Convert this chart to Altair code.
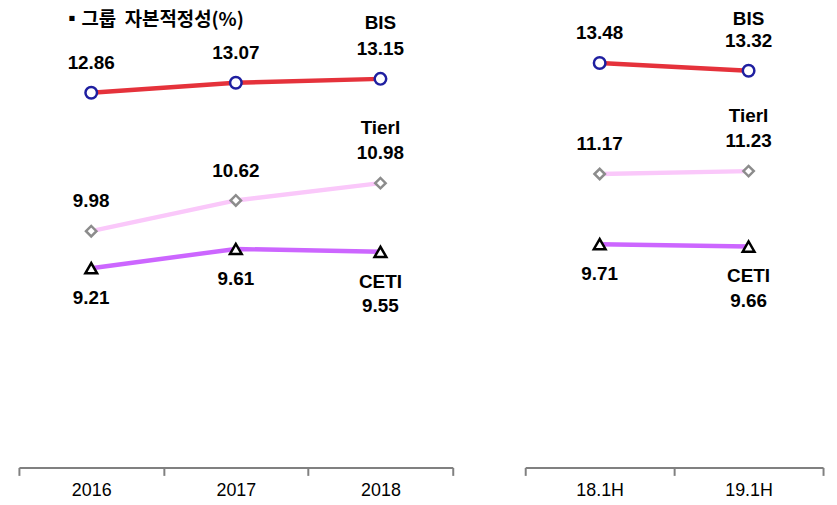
import altair as alt
import pandas as pd

# ---- data ----
years = ["2016", "2017", "2018"]
halves = ["18.1H", "19.1H"]
bis_years = [12.86, 13.07, 13.15]
tier_years = [9.98, 10.62, 10.98]
ceti_years = [9.21, 9.61, 9.55]
bis_halves = [13.48, 13.32]
tier_halves = [11.17, 11.23]
ceti_halves = [9.71, 9.66]
series_names = ["BIS", "TierI", "CETI"]
series_colors = ["#E5323B", "#FAC8FA", "#CC66FF"]
title_text = "▪그룹\u00a0\u00a0자본적정성(%)"

def build(periods, bis, tier, ceti):
    rows = []
    for name, vals in zip(series_names, [bis, tier, ceti]):
        for i, (p, v) in enumerate(zip(periods, vals)):
            rows.append({"period": p, "series": name, "value": v,
                         "label": f"{v:.2f}", "last": i == len(periods) - 1})
    return pd.DataFrame(rows)

df_left = build(years, bis_years, tier_years, ceti_years)
df_right = build(halves, bis_halves, tier_halves, ceti_halves)

YDOM = [5.063, 14.133]
H = 439
LABEL_FONT = "Liberation Sans"


def panel(df, periods, width, name_dy, with_title=False):
    base = alt.Chart(df).encode(
        x=alt.X("period:N", sort=periods, title=None,
                scale=alt.Scale(paddingInner=0, paddingOuter=0),
                axis=alt.Axis(labelAngle=0, tickBand="extent", tickSize=8,
                              tickColor="#808080", tickWidth=2,
                              domainColor="#808080", domainWidth=2,
                              labelFont=LABEL_FONT, labelFontSize=18,
                              labelColor="#000000", labelPadding=6)),
        y=alt.Y("value:Q", scale=alt.Scale(domain=YDOM, zero=False, nice=False),
                axis=None),
    )
    lines = base.mark_line(strokeWidth=4.5).encode(
        color=alt.Color("series:N", scale=alt.Scale(domain=series_names, range=series_colors),
                        legend=None),
        detail="series:N",
    )
    bis_pts = base.transform_filter("datum.series == 'BIS'").mark_point(
        shape="circle", size=135, filled=True, fill="white", stroke="#1F1FA0",
        strokeWidth=2.5, opacity=1)
    tier_pts = base.transform_filter("datum.series == 'TierI'").mark_point(
        shape="diamond", size=110, filled=True, fill="white", stroke="#8C8C8C",
        strokeWidth=2.5, opacity=1)
    ceti_pts = base.transform_filter("datum.series == 'CETI'").mark_point(
        shape="triangle-up", size=140, filled=True, fill="white", stroke="#000000",
        strokeWidth=2.5, opacity=1)

    tfont = dict(font=LABEL_FONT, fontSize=19, fontWeight="bold", color="#000000",
                 baseline="middle", align="center")
    up_vals = base.transform_filter("datum.series != 'CETI'").mark_text(dy=-30, **tfont).encode(
        text="label:N")
    bis_name = base.transform_filter("datum.series == 'BIS' && datum.last").mark_text(
        dy=name_dy, **tfont).encode(text="series:N")
    tier_name = base.transform_filter("datum.series == 'TierI' && datum.last").mark_text(
        dy=-55, **tfont).encode(text="series:N")
    down_vals = base.transform_filter("datum.series == 'CETI' && !datum.last").mark_text(
        dy=30, **tfont).encode(text="label:N")
    down_names = base.transform_filter("datum.series == 'CETI' && datum.last").mark_text(
        dy=30, **tfont).encode(text="series:N")
    down_last = base.transform_filter("datum.series == 'CETI' && datum.last").mark_text(
        dy=55, **tfont).encode(text="label:N")

    layers = [lines, bis_pts, tier_pts, ceti_pts, up_vals, bis_name, tier_name,
              down_vals, down_names, down_last]
    if with_title:
        ttl = alt.Chart(pd.DataFrame({"t": [title_text]})).mark_text(
            font="Noto Sans CJK KR", fontSize=19, fontWeight="bold", color="#000000",
            align="left", baseline="middle").encode(
            text="t:N", x=alt.value(44), y=alt.value(-12))
        layers.append(ttl)
    return alt.layer(*layers).properties(width=width, height=H)


left = panel(df_left, years, 437, -56, with_title=True)
right = panel(df_right, halves, 300, -52)

chart = alt.hconcat(left, right, spacing=71).properties(
    padding={"left": 10, "top": 0, "right": 5, "bottom": 0},
).configure_view(stroke=None).configure_axis(grid=False)

chart.save("out.html", embed_options={"renderer": "svg", "actions": False})
